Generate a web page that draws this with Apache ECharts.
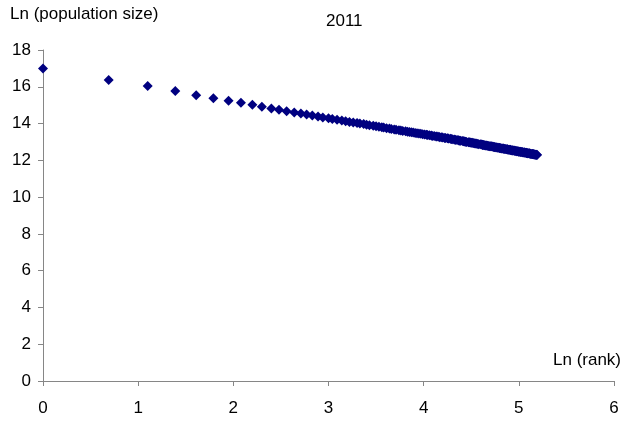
<!DOCTYPE html>
<html>
<head>
<meta charset="utf-8">
<script src="https://cdn.jsdelivr.net/npm/echarts@6/dist/echarts.min.js"></script>
<style>
  html, body { margin: 0; padding: 0; background: #fff; }
  #chart { width: 624px; height: 421px; }
</style>
</head>
<body>
<div id="chart"></div>
<script>
'use strict';

// 数据：ln(rank) 与 ln(population size)，2011
const chartTitle = '2011';
const xAxisTitle = 'Ln (rank)';
const yAxisTitle = 'Ln (population size)';

const lnRank = [
    0.00, 0.69, 1.10, 1.39, 1.61, 1.79, 1.95, 2.08, 2.20, 2.30,
    2.40, 2.48, 2.56, 2.64, 2.71, 2.77, 2.83, 2.89, 2.94, 3.00,
    3.04, 3.09, 3.14, 3.18, 3.22, 3.26, 3.30, 3.33, 3.37, 3.40,
    3.43, 3.47, 3.50, 3.53, 3.56, 3.58, 3.61, 3.64, 3.66, 3.69,
    3.71, 3.74, 3.76, 3.78, 3.81, 3.83, 3.85, 3.87, 3.89, 3.91,
    3.93, 3.95, 3.97, 3.99, 4.01, 4.03, 4.04, 4.06, 4.08, 4.09,
    4.11, 4.13, 4.14, 4.16, 4.17, 4.19, 4.20, 4.22, 4.23, 4.25,
    4.26, 4.28, 4.29, 4.30, 4.32, 4.33, 4.34, 4.36, 4.37, 4.38,
    4.39, 4.41, 4.42, 4.43, 4.44, 4.45, 4.47, 4.48, 4.49, 4.50,
    4.51, 4.52, 4.53, 4.54, 4.55, 4.56, 4.57, 4.58, 4.60, 4.61,
    4.62, 4.62, 4.63, 4.64, 4.65, 4.66, 4.67, 4.68, 4.69, 4.70,
    4.71, 4.72, 4.73, 4.74, 4.74, 4.75, 4.76, 4.77, 4.78, 4.79,
    4.80, 4.80, 4.81, 4.82, 4.83, 4.84, 4.84, 4.85, 4.86, 4.87,
    4.88, 4.88, 4.89, 4.90, 4.91, 4.91, 4.92, 4.93, 4.93, 4.94,
    4.95, 4.96, 4.96, 4.97, 4.98, 4.98, 4.99, 5.00, 5.00, 5.01,
    5.02, 5.02, 5.03, 5.04, 5.04, 5.05, 5.06, 5.06, 5.07, 5.08,
    5.08, 5.09, 5.09, 5.10, 5.11, 5.11, 5.12, 5.12, 5.13, 5.14,
    5.14, 5.15, 5.15, 5.16, 5.16, 5.17, 5.18, 5.18, 5.19, 5.19
];

const lnPop = [
    17.00, 16.37, 16.04, 15.77, 15.54, 15.37, 15.24, 15.13, 15.02, 14.91,
    14.82, 14.75, 14.67, 14.60, 14.55, 14.49, 14.44, 14.38, 14.33, 14.29,
    14.25, 14.21, 14.17, 14.13, 14.09, 14.06, 14.03, 14.00, 13.97, 13.94,
    13.91, 13.88, 13.85, 13.83, 13.80, 13.78, 13.75, 13.73, 13.71, 13.68,
    13.66, 13.64, 13.62, 13.60, 13.58, 13.56, 13.54, 13.53, 13.51, 13.49,
    13.47, 13.46, 13.44, 13.42, 13.41, 13.39, 13.38, 13.36, 13.35, 13.33,
    13.32, 13.30, 13.29, 13.28, 13.26, 13.25, 13.24, 13.22, 13.21, 13.20,
    13.19, 13.17, 13.16, 13.15, 13.13, 13.12, 13.11, 13.10, 13.08, 13.07,
    13.06, 13.05, 13.04, 13.02, 13.01, 13.00, 12.99, 12.98, 12.97, 12.96,
    12.95, 12.94, 12.93, 12.92, 12.91, 12.90, 12.89, 12.88, 12.87, 12.86,
    12.85, 12.84, 12.83, 12.82, 12.81, 12.80, 12.79, 12.78, 12.77, 12.77,
    12.76, 12.75, 12.74, 12.73, 12.72, 12.71, 12.71, 12.70, 12.69, 12.68,
    12.67, 12.67, 12.66, 12.65, 12.64, 12.64, 12.63, 12.62, 12.61, 12.60,
    12.60, 12.59, 12.58, 12.58, 12.57, 12.56, 12.55, 12.55, 12.54, 12.53,
    12.53, 12.52, 12.51, 12.51, 12.50, 12.49, 12.49, 12.48, 12.47, 12.47,
    12.46, 12.45, 12.45, 12.44, 12.44, 12.43, 12.42, 12.42, 12.41, 12.41,
    12.40, 12.39, 12.39, 12.38, 12.38, 12.37, 12.36, 12.36, 12.35, 12.35,
    12.34, 12.34, 12.33, 12.33, 12.32, 12.31, 12.31, 12.30, 12.30, 12.29
];

const FONT = 'Liberation Sans, Arial, sans-serif';
const AXIS_GREY = '#868686';

const myChart = echarts.init(document.getElementById('chart'));

const points = lnRank.map((x, i) => [x, lnPop[i]]);

const option = {
    animation: false,
    backgroundColor: '#fff',
    title: [
        {
            text: chartTitle,
            left: 326, top: 13, padding: 0,
            textStyle: { fontFamily: FONT, fontSize: 17, fontWeight: 'normal', color: '#000' }
        },
        {
            text: yAxisTitle,
            left: 10, top: 6, padding: 0,
            textStyle: { fontFamily: FONT, fontSize: 17, fontWeight: 'normal', color: '#000' }
        },
        {
            text: xAxisTitle,
            left: 553, top: 352, padding: 0,
            textStyle: { fontFamily: FONT, fontSize: 17, fontWeight: 'normal', color: '#000' }
        }
    ],
    grid: { left: 43, right: 10, top: 50, bottom: 40 },
    xAxis: {
        type: 'value',
        min: 0, max: 6, interval: 1,
        axisLine: { show: true, onZero: false, lineStyle: { color: AXIS_GREY, width: 1 } },
        axisTick: { show: true, inside: false, length: 5, lineStyle: { color: AXIS_GREY } },
        axisLabel: { margin: 19, fontFamily: FONT, fontSize: 17, color: '#000' },
        splitLine: { show: false }
    },
    yAxis: {
        type: 'value',
        min: 0, max: 18, interval: 2,
        axisLine: { show: true, onZero: false, lineStyle: { color: AXIS_GREY, width: 1 } },
        axisTick: { show: true, inside: false, length: 5, lineStyle: { color: AXIS_GREY } },
        axisLabel: { margin: 12, fontFamily: FONT, fontSize: 17, color: '#000' },
        splitLine: { show: false }
    },
    series: [{
        type: 'scatter',
        data: points,
        symbol: 'diamond',
        symbolSize: [10, 10],
        itemStyle: { color: '#000080', opacity: 1 }
    }]
};

myChart.setOption(option);
</script>
</body>
</html>
